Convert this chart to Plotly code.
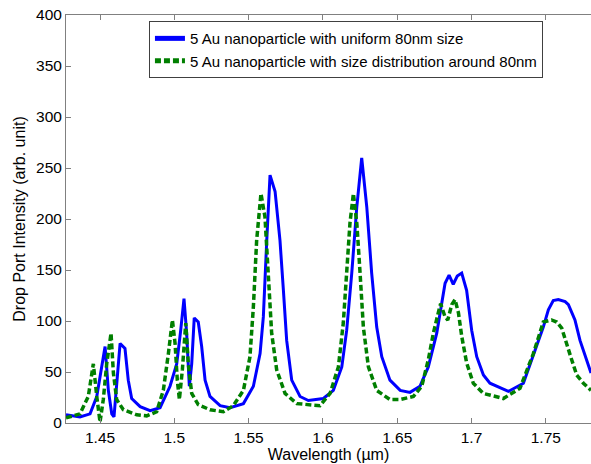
import plotly.graph_objects as go

blue_x = [1.4271, 1.4365, 1.4433, 1.4478, 1.4511, 1.4534, 1.4556, 1.4579, 1.4594, 1.4612, 1.4635,
          1.4668, 1.469, 1.4713, 1.477, 1.4837, 1.4904, 1.4971, 1.5016, 1.5043, 1.5065, 1.5083,
          1.5101, 1.5117, 1.5134, 1.5161, 1.5184, 1.5207, 1.524, 1.5308, 1.5375, 1.5465, 1.5532,
          1.5577, 1.5599, 1.5622, 1.5644, 1.5678, 1.5711, 1.5734, 1.5756, 1.579, 1.5846, 1.5902,
          1.6003, 1.607, 1.6127, 1.616, 1.6194, 1.6228, 1.6261, 1.6295, 1.6328, 1.6362, 1.6396,
          1.6451, 1.652, 1.6586, 1.6653, 1.6709, 1.6766, 1.6799, 1.6822, 1.6849, 1.6877, 1.6904,
          1.6934, 1.6967, 1.7001, 1.7035, 1.708, 1.7124, 1.7248, 1.7349, 1.7439, 1.7483, 1.7517,
          1.755, 1.7584, 1.763, 1.7652, 1.7696, 1.773, 1.7804]
blue_y = [8, 6, 9, 26, 55, 75, 32, 9, 6, 39, 78,
          73, 42, 24, 16, 12, 15, 36, 58, 91, 122, 88,
          36, 58, 103, 99, 75, 42, 26, 17, 15, 19, 36,
          68, 104, 179, 243, 227, 179, 130, 81, 42, 26, 22,
          24, 32, 55, 91, 147, 212, 260, 212, 147, 94, 65,
          42, 32, 30, 36, 55, 88, 117, 137, 145, 136, 144,
          147, 130, 91, 65, 47, 39, 31, 39, 75, 94, 111,
          120, 121, 119, 116, 101, 81, 49]

green_x = [1.4271, 1.4365, 1.4421, 1.4455, 1.4478, 1.45, 1.4522, 1.4545, 1.4574, 1.459, 1.4612,
           1.4657, 1.4747, 1.4814, 1.4881, 1.4926, 1.496, 1.4987, 1.5005, 1.502, 1.5034, 1.5054,
           1.5077, 1.5094, 1.5117, 1.5161, 1.524, 1.533, 1.5397, 1.5465, 1.5509, 1.5532, 1.5554,
           1.5583, 1.561, 1.5633, 1.5655, 1.5689, 1.5745, 1.5824, 1.5891, 1.598, 1.6048, 1.6104,
           1.6137, 1.616, 1.6182, 1.6205, 1.6228, 1.625, 1.6272, 1.6306, 1.6362, 1.6451, 1.652,
           1.6609, 1.6665, 1.6709, 1.6743, 1.6776, 1.6792, 1.6822, 1.684, 1.6867, 1.6889, 1.6912,
           1.6934, 1.6967, 1.7012, 1.708, 1.7214, 1.7326, 1.7416, 1.7483, 1.7539, 1.7573, 1.7607,
           1.7674, 1.7708, 1.7753, 1.7804]
green_y = [5, 9, 26, 58, 26, 1, 23, 58, 88, 49, 23,
           13, 8, 7, 11, 32, 68, 101, 78, 42, 23, 52,
           98, 58, 29, 18, 13, 11, 17, 32, 65, 114, 179,
           225, 202, 140, 88, 52, 29, 19, 18, 17, 29, 55,
           98, 147, 196, 225, 196, 147, 94, 55, 32, 23, 23,
           26, 36, 62, 88, 108, 117, 104, 101, 116, 121, 108,
           85, 59, 39, 29, 24, 34, 68, 99, 101, 99, 93,
           62, 47, 39, 32]

x_ticks = [1.45, 1.5, 1.55, 1.6, 1.65, 1.7, 1.75]
x_tick_labels = ["1.45", "1.5", "1.55", "1.6", "1.65", "1.7", "1.75"]
y_ticks = [0, 50, 100, 150, 200, 250, 300, 350, 400]

names = ["5 Au nanoparticle with uniform 80nm size",
         "5 Au nanoparticle with size distribution around 80nm"]

FONT = "Liberation Sans, Arial, sans-serif"

fig = go.Figure()
fig.add_trace(go.Scatter(x=blue_x, y=blue_y, mode="lines", name=names[0],
                         line=dict(color="#0000FF", width=3)))
fig.add_trace(go.Scatter(x=green_x, y=green_y, mode="lines", name=names[1],
                         line=dict(color="#007F00", width=3.5, dash="6px,3px")))

axis_common = dict(showgrid=False, zeroline=False, showline=True, linecolor="#808080",
                   linewidth=1, ticks="inside", ticklen=5, tickcolor="#808080",
                   tickfont=dict(family=FONT, size=15.5, color="black"))

fig.update_layout(
    width=591, height=464,
    margin=dict(l=66, r=0, t=15, b=41),
    paper_bgcolor="white", plot_bgcolor="white",
    font=dict(family=FONT, size=16, color="black"),
    showlegend=True,
    legend=dict(x=0.158, y=0.985, xanchor="left", yanchor="top",
                bordercolor="#404040", borderwidth=1, bgcolor="white",
                font=dict(family=FONT, size=15, color="black"),
                itemwidth=30, tracegroupgap=0, traceorder="normal",
                itemsizing="constant"),
    xaxis=dict(range=[1.4271, 1.7804], tickvals=x_ticks, ticktext=x_tick_labels,
               mirror="ticks", automargin=False,
               title=dict(text="Wavelength (\u00b5m)", standoff=0,
                          font=dict(family=FONT, size=16)),
               **axis_common),
    yaxis=dict(range=[0, 400], tickvals=y_ticks, mirror=False, automargin=False,
               title=dict(text="Drop Port Intensity (arb. unit)", standoff=6,
                          font=dict(family=FONT, size=16)),
               **axis_common),
)

fig.write_html("out.html", config={"displayModeBar": False},
               post_script="document.body.style.margin='0px';document.body.style.overflow='hidden';")
